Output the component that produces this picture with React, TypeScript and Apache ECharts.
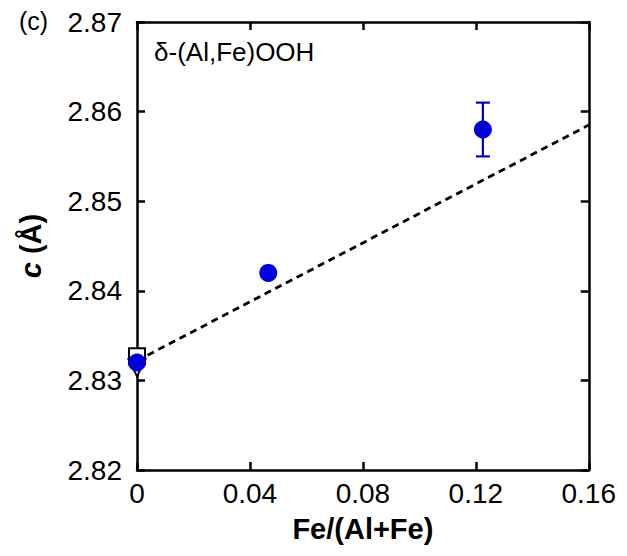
import React, { useEffect, useRef } from "react";
import * as echarts from "echarts";

const xTicks = [0, 0.04, 0.08, 0.12, 0.16];
const circleX = [0, 0.0465, 0.1225];
const circleY = [2.832, 2.842, 2.858];
const errX = [0.1225];
const errLow = [2.855];
const errHigh = [2.861];
const squareX = [0];
const squareY = [2.8327];
const triX = [0];
const triY = [2.8314];
const fitX = [0, 0.16];
const fitY = [2.8322, 2.8585];

const FONT = "'Liberation Sans', Arial, sans-serif";

const mkLine = () => ({ show: true, onZero: false, lineStyle: { color: "#000", width: 2.5 } });
const mkTick = () => ({ show: true, inside: true, length: 8, lineStyle: { color: "#000", width: 2.5 } });

export default function App() {
  const ref = useRef<HTMLDivElement>(null);
  useEffect(() => {
    if (!ref.current) return;
    const chart = echarts.init(ref.current, null, { renderer: "svg" });
    chart.setOption({
      animation: false,
      backgroundColor: "#fff",
      textStyle: { fontFamily: FONT },
      grid: { left: 128, right: 28, top: 13, bottom: 72, containLabel: false },
      xAxis: [
        {
          type: "value",
          min: 0,
          max: 0.16,
          interval: 0.04,
          position: "bottom",
          axisLine: mkLine(),
          axisTick: mkTick(),
          splitLine: { show: false },
          axisLabel: {
            color: "#000",
            fontSize: 28,
            fontFamily: FONT,
            margin: 9,
            formatter: (v: number) => (v === 0 ? "0" : v.toFixed(2)),
          },
          name: "Fe/(Al+Fe)",
          nameLocation: "middle",
          nameGap: 44,
          nameTextStyle: { color: "#000", fontSize: 29, fontWeight: "bold", fontFamily: FONT },
        },
        {
          type: "value",
          min: 0,
          max: 0.16,
          interval: 0.04,
          position: "top",
          axisLine: mkLine(),
          axisTick: mkTick(),
          splitLine: { show: false },
          axisLabel: { show: false },
        },
      ],
      yAxis: [
        {
          type: "value",
          min: 2.82,
          max: 2.87,
          interval: 0.01,
          position: "left",
          axisLine: mkLine(),
          axisTick: mkTick(),
          splitLine: { show: false },
          axisLabel: {
            color: "#000",
            fontSize: 28,
            fontFamily: FONT,
            margin: 15,
            formatter: (v: number) => v.toFixed(2),
          },
          name: "{i|c}{b| (Å)}",
          nameLocation: "middle",
          nameGap: 92,
          nameRotate: 90,
          nameTextStyle: {
            rich: {
              i: { fontSize: 29, fontWeight: "bold", fontStyle: "italic", fontFamily: FONT, color: "#000" },
              b: { fontSize: 29, fontWeight: "bold", fontFamily: FONT, color: "#000" },
            },
          },
        },
        {
          type: "value",
          min: 2.82,
          max: 2.87,
          interval: 0.01,
          position: "right",
          axisLine: mkLine(),
          axisTick: mkTick(),
          splitLine: { show: false },
          axisLabel: { show: false },
        },
      ],
      graphic: [
        {
          type: "text",
          left: 11,
          top: 0,
          style: { text: "(c)", fontSize: 25, fontFamily: FONT, fill: "#000" },
        },
        {
          type: "text",
          left: 146,
          top: 31,
          style: { text: "δ-(Al,Fe)OOH", fontSize: 26, fontFamily: FONT, fill: "#000" },
        },
      ],
      series: [
        {
          type: "line",
          data: fitX.map((x, i) => [x, fitY[i]]),
          showSymbol: false,
          symbol: "none",
          lineStyle: { color: "#000", width: 2.8, type: [7, 5] },
          z: 1,
        },
        {
          type: "scatter",
          data: squareX.map((x, i) => [x, squareY[i]]),
          symbol: "rect",
          symbolSize: 16,
          itemStyle: { color: "#fff", borderColor: "#000", borderWidth: 2, opacity: 1 },
          z: 2,
        },
        {
          type: "scatter",
          data: triX.map((x, i) => [x, triY[i]]),
          symbol: "triangle",
          symbolRotate: 180,
          symbolSize: 17,
          itemStyle: { color: "#fff", borderColor: "#000", borderWidth: 2, opacity: 1 },
          z: 3,
        },
        {
          type: "custom",
          data: errX.map((x, i) => [x, errLow[i], errHigh[i]]),
          renderItem: (params: any, api: any) => {
            const x = api.value(0);
            const lo = api.coord([x, api.value(1)]);
            const hi = api.coord([x, api.value(2)]);
            const cap = 7;
            const style = { stroke: "#0000d0", lineWidth: 2.2 };
            return {
              type: "group",
              children: [
                { type: "line", shape: { x1: lo[0], y1: lo[1], x2: hi[0], y2: hi[1] }, style },
                { type: "line", shape: { x1: lo[0] - cap, y1: lo[1], x2: lo[0] + cap, y2: lo[1] }, style },
                { type: "line", shape: { x1: hi[0] - cap, y1: hi[1], x2: hi[0] + cap, y2: hi[1] }, style },
              ],
            };
          },
          z: 4,
        },
        {
          type: "scatter",
          data: circleX.map((x, i) => [x, circleY[i]]),
          symbol: "circle",
          symbolSize: 18,
          itemStyle: { color: "#0000dc", opacity: 1 },
          z: 5,
        },
      ],
    });
    return () => chart.dispose();
  }, []);
  return <div ref={ref} style={{ width: 611, height: 540 }} />;
}
